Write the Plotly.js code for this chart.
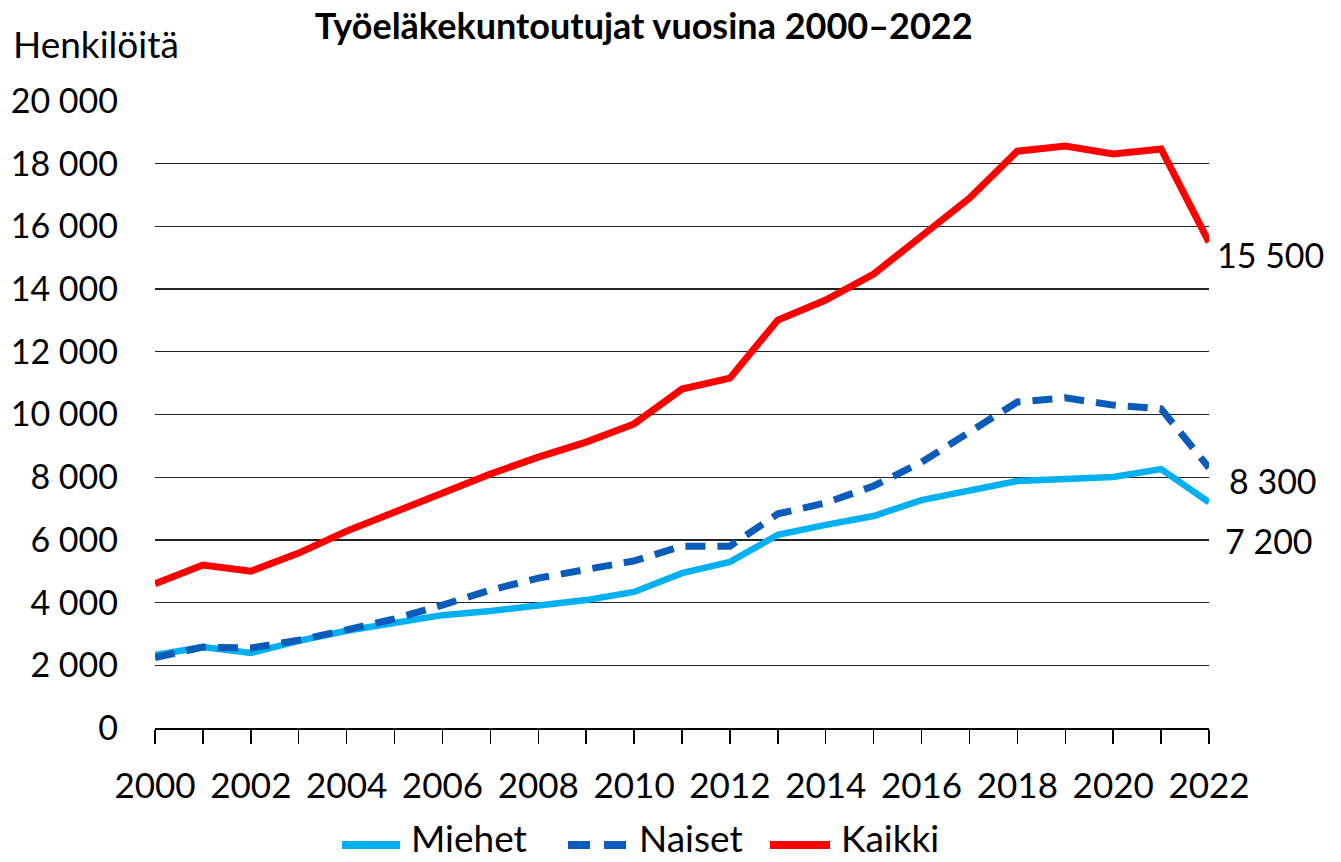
<!DOCTYPE html>
<html><head><meta charset="utf-8">
<script src="https://cdn.plot.ly/plotly-3.0.1.min.js"></script>
<style>html,body{margin:0;padding:0;background:#fff;}#chart{width:1341px;height:862px;}</style>
</head><body><div id="chart"></div>
<script>
const years = [2000,2001,2002,2003,2004,2005,2006,2007,2008,2009,2010,2011,2012,2013,2014,2015,2016,2017,2018,2019,2020,2021,2022];
const miehet = [2330,2580,2390,2780,3100,3350,3600,3730,3920,4080,4340,4940,5300,6160,6480,6760,7270,7560,7880,7940,8010,8260,7200];
const naiset = [2250,2580,2550,2800,3130,3480,3920,4400,4780,5040,5330,5800,5800,6830,7180,7720,8480,9440,10400,10530,10300,10180,8300];
const kaikki = [4600,5200,5000,5580,6280,6890,7500,8100,8640,9120,9700,10810,11160,13010,13650,14480,15690,16900,18400,18560,18310,18470,15500];
const seriesNames = ['Miehet','Naiset','Kaikki'];
const endLabels = ['7 200','8 300','15 500'];
const titleText = 'Työeläkekuntoutujat vuosina 2000–2022';
const yLabel = 'Henkilöitä';
const xTickVals = [2000,2002,2004,2006,2008,2010,2012,2014,2016,2018,2020,2022];

const FONT = 'Lato, "Liberation Sans", sans-serif';
const colors = ['#00B0F0','#0B5CBA','#FF0000'];
const dashes = ['solid','20px,12px','solid'];
const widths = [6.5,7,7];
const traces = seriesNames.map((n,i)=>({
  x: years, y: [miehet,naiset,kaikki][i], name:n, type:'scatter', mode:'lines',
  line:{color:colors[i], width:widths[i], dash:dashes[i]}, showlegend:false
}));

// pixel -> paper helpers for the hand-drawn legend
const L=155, R=1209, T=101, B=728;
const px = v => (v-L)/(R-L);
const py = v => (B-v)/(B-T);

const last = years[years.length-1];
const annotations = [
  {xref:'paper', yref:'paper', x:-0.137, y:1.053, xanchor:'left', yanchor:'bottom', text:yLabel, showarrow:false,
   font:{family:FONT, size:37, color:'#000'}},
  {x:last, y:kaikki[kaikki.length-1], xanchor:'left', yanchor:'middle', xshift:6, yshift:-12, text:endLabels[2], showarrow:false,
   font:{family:FONT, size:34, color:'#000'}},
  {x:last, y:naiset[naiset.length-1], xanchor:'left', yanchor:'middle', xshift:18, yshift:-13, text:endLabels[1], showarrow:false,
   font:{family:FONT, size:34, color:'#000'}},
  {x:last, y:miehet[miehet.length-1], xanchor:'left', yanchor:'middle', xshift:14, yshift:-38, text:endLabels[0], showarrow:false,
   font:{family:FONT, size:34, color:'#000'}}
];
const legY = 845;
const legSym = [[342,400],[568,630],[770,830]];
const legText = [410,638,840];
const shapes = [];
seriesNames.forEach((n,i)=>{
  shapes.push({type:'line', xref:'paper', yref:'paper', x0:px(legSym[i][0]), x1:px(legSym[i][1]), y0:py(legY), y1:py(legY),
    line:{color:colors[i], width:8, dash: i===1 ? '22px,14px' : 'solid'}});
  annotations.push({xref:'paper', yref:'paper', x:px(legText[i]), y:py(861), xanchor:'left', yanchor:'bottom',
    text:n, showarrow:false, borderpad:0, font:{family:FONT, size:37, color:'#000'}});
});

const layout = {
  width:1341, height:862,
  margin:{l:155, r:132, t:101, b:134, autoexpand:false},
  paper_bgcolor:'#fff', plot_bgcolor:'#fff',
  separators:', ',
  font:{family:FONT, color:'#000'},
  title:{text:'<b>'+titleText+'</b>', x:0.48, xanchor:'center', y:0.984, yanchor:'top',
         font:{family:FONT, size:36, color:'#000'}},
  xaxis:{range:[2000,2022], tickvals:xTickVals, ticks:'outside', ticklen:14, tickwidth:1.5, tickcolor:'#000',
         showline:true, linecolor:'#000', linewidth:2, showgrid:false, zeroline:false,
         minor:{dtick:1, tick0:2000, ticks:'outside', ticklen:14, tickwidth:1.5, tickcolor:'#000', showgrid:false},
         ticklabelstandoff:12, tickfont:{family:FONT, size:35, color:'#000'}, fixedrange:true},
  yaxis:{range:[0,20000], dtick:2000, tickformat:',d', showgrid:true, gridcolor:'#222', gridwidth:1.3,
         zeroline:false, showline:false, ticks:'', ticklabelstandoff:36,
         tickfont:{family:FONT, size:34, color:'#000'}, fixedrange:true},
  showlegend:false,
  shapes:shapes,
  annotations:annotations
};
Plotly.newPlot('chart', traces, layout, {displayModeBar:false, staticPlot:true});
</script></body></html>
